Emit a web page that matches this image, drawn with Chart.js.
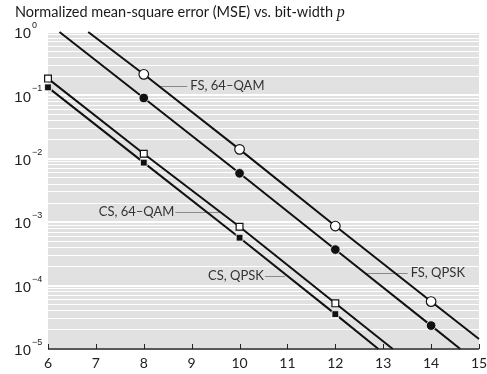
<!DOCTYPE html>
<html>
<head>
<meta charset="utf-8">
<script src="https://cdn.jsdelivr.net/npm/chart.js@4.4.0/dist/chart.umd.min.js"></script>
<style>
  html, body { margin: 0; padding: 0; background: #fff; }
</style>
</head>
<body>
<canvas id="mse" width="487" height="374"></canvas>
<script>
// values
const xTicks = [6, 7, 8, 9, 10, 11, 12, 13, 14, 15];
const yDecades = [-5, -4, -3, -2, -1, 0];

const fs64Bits   = [6.84, 8, 10, 12, 14, 15];
const fs64Mse    = [1, 0.215, 0.0141, 8.7e-4, 5.6e-5, 1.44e-5];
const fs64Marked = [false, true, true, true, true, false];

const fsQpskBits   = [6.24, 8, 10, 12, 14, 14.61];
const fsQpskMse    = [1, 0.091, 0.0059, 3.7e-4, 2.34e-5, 1e-5];
const fsQpskMarked = [false, true, true, true, true, false];

const cs64Bits   = [6, 8, 10, 12, 13.2];
const cs64Mse    = [0.184, 0.012, 8.5e-4, 5.25e-5, 1e-5];
const cs64Marked = [true, true, true, true, false];

const csQpskBits   = [6, 8, 10, 12, 12.9];
const csQpskMse    = [0.134, 0.0087, 5.7e-4, 3.55e-5, 1e-5];
const csQpskMarked = [true, true, true, true, false];

const seriesNames = ['FS, 64\u2013QAM', 'FS, QPSK', 'CS, 64\u2013QAM', 'CS, QPSK'];

// callouts: leader line from..to (bits) at an MSE level, text on one side
const callouts = [
  { name: seriesNames[0], from: 8.34, to: 8.91, at: 0.1406, side: 'right' },
  { name: seriesNames[2], from: 8.66, to: 9.58, at: 1.45e-3, side: 'left' },
  { name: seriesNames[3], from: 10.53, to: 10.95, at: 1.42e-4, side: 'left' },
  { name: seriesNames[1], from: 12.65, to: 13.51, at: 1.58e-4, side: 'right' }
];

const INK = '#111';
const SANS = 'Lato, "Open Sans", sans-serif';

function pts(xs, ys) {
  return xs.map((x, i) => ({ x: x, y: ys[i] }));
}

function series(xs, ys, marked, style, filled) {
  return {
    data: pts(xs, ys),
    borderColor: INK,
    borderWidth: 2,
    pointStyle: style,
    pointRadius: marked.map(m => m ? 4.8 : 0),
    pointBackgroundColor: filled ? INK : '#fff',
    pointBorderColor: filled ? '#fff' : INK,
    pointBorderWidth: filled ? 0.8 : 1.2,
    clip: false,
    tension: 0
  };
}

const decorations = {
  id: 'decorations',
  beforeDraw(chart) {
    const a = chart.chartArea, ctx = chart.ctx;
    ctx.save();
    ctx.fillStyle = '#e1e1e1';
    ctx.fillRect(a.left, a.top, a.right - a.left, a.bottom - a.top);
    ctx.restore();
  },
  beforeDatasetsDraw(chart) {
    const ctx = chart.ctx, xs = chart.scales.x, ys = chart.scales.y;
    ctx.save();
    ctx.strokeStyle = '#8a8a8a';
    ctx.lineWidth = 1;
    callouts.forEach(c => {
      const y = Math.round(ys.getPixelForValue(c.at)) + 0.5;
      ctx.beginPath();
      ctx.moveTo(xs.getPixelForValue(c.from), y);
      ctx.lineTo(xs.getPixelForValue(c.to), y);
      ctx.stroke();
    });
    ctx.restore();
  },
  afterDraw(chart) {
    const ctx = chart.ctx, a = chart.chartArea;
    const xs = chart.scales.x, ys = chart.scales.y;
    ctx.save();

    // title
    ctx.fillStyle = '#1a1a1a';
    ctx.textBaseline = 'alphabetic';
    ctx.textAlign = 'left';
    ctx.font = '14.5px ' + SANS;
    const head = 'Normalized mean-square error (MSE) vs. bit-width ';
    ctx.fillText(head, 15, 17);
    const w = ctx.measureText(head).width;
    ctx.font = 'italic 16px "Liberation Serif", "DejaVu Serif", serif';
    ctx.fillText('p', 15 + w, 17);

    // x axis line and inward ticks
    ctx.strokeStyle = '#222';
    ctx.lineWidth = 1.5;
    ctx.beginPath();
    ctx.moveTo(a.left, a.bottom);
    ctx.lineTo(a.right, a.bottom);
    ctx.stroke();
    ctx.lineWidth = 1;
    xTicks.forEach(t => {
      const x = Math.round(xs.getPixelForValue(t)) + 0.5;
      ctx.beginPath();
      ctx.moveTo(x, a.bottom);
      ctx.lineTo(x, a.bottom - 5);
      ctx.stroke();
    });

    // x tick labels
    ctx.fillStyle = '#222';
    ctx.font = '14px ' + SANS;
    ctx.textAlign = 'center';
    ctx.textBaseline = 'middle';
    xTicks.forEach(t => ctx.fillText(String(t), xs.getPixelForValue(t), 363));

    // y tick labels 10^n
    yDecades.forEach(d => {
      const y = ys.getPixelForValue(Math.pow(10, d));
      ctx.font = '15px "Liberation Sans", Arial, sans-serif';
      ctx.textAlign = 'right';
      ctx.textBaseline = 'middle';
      ctx.fillText('10', 31, y + 2);
      ctx.font = '9px "Liberation Sans", Arial, sans-serif';
      ctx.textAlign = 'left';
      ctx.textBaseline = 'alphabetic';
      ctx.fillText(d === 0 ? '0' : '\u2212' + Math.abs(d), 32, y - 4);
    });

    // callout texts
    ctx.fillStyle = '#333';
    ctx.font = '13px ' + SANS;
    ctx.textBaseline = 'middle';
    callouts.forEach(c => {
      const y = ys.getPixelForValue(c.at);
      if (c.side === 'right') {
        ctx.textAlign = 'left';
        ctx.fillText(c.name, xs.getPixelForValue(c.to) + 3, y);
      } else {
        ctx.textAlign = 'right';
        ctx.fillText(c.name, xs.getPixelForValue(c.from) - 1, y);
      }
    });
    ctx.restore();
  }
};

function isDecade(v) {
  const l = Math.log10(v);
  return Math.abs(l - Math.round(l)) < 1e-9;
}

new Chart(document.getElementById('mse'), {
  type: 'line',
  data: {
    datasets: [
      series(fs64Bits, fs64Mse, fs64Marked, 'circle', false),
      series(fsQpskBits, fsQpskMse, fsQpskMarked, 'circle', true),
      series(cs64Bits, cs64Mse, cs64Marked, 'rect', false),
      series(csQpskBits, csQpskMse, csQpskMarked, 'rect', true)
    ]
  },
  options: {
    responsive: false,
    animation: false,
    layout: { padding: { left: 48, right: 8, top: 32, bottom: 25 } },
    plugins: { legend: { display: false }, tooltip: { enabled: false }, title: { display: false } },
    scales: {
      x: {
        type: 'linear',
        min: 6,
        max: 15,
        display: false
      },
      y: {
        type: 'logarithmic',
        min: 1e-5,
        max: 1,
        afterBuildTicks(scale) {
          const t = [];
          yDecades.forEach(d => {
            if (d === 0) { t.push({ value: 1 }); return; }
            for (let k = 1; k <= 9; k++) t.push({ value: k * Math.pow(10, d) });
          });
          scale.ticks = t;
        },
        ticks: { display: false },
        border: { display: false },
        grid: {
          drawTicks: false,
          color: '#ffffff',
          lineWidth: ctx => (ctx.tick && isDecade(ctx.tick.value)) ? 2 : 1
        }
      }
    }
  },
  plugins: [decorations]
});
</script>
</body>
</html>
